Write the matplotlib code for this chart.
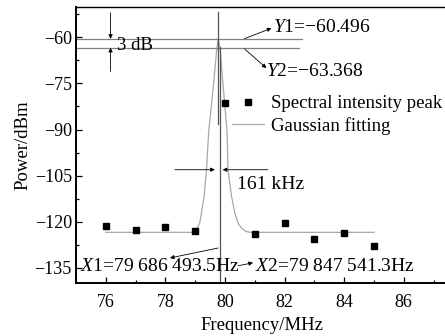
import matplotlib
matplotlib.use("Agg")
import matplotlib.pyplot as plt
from matplotlib.ticker import MultipleLocator

plt.rcParams["font.family"] = ["Liberation Serif", "DejaVu Serif"]
plt.rcParams["mathtext.fontset"] = "custom"
plt.rcParams["mathtext.rm"] = "Liberation Serif"
plt.rcParams["mathtext.it"] = "Liberation Serif:italic"

# 测量点（频谱强度峰值）
freq = [76, 77, 78, 79, 80, 81, 82, 83, 84, 85]
power = [-121.3, -122.6, -121.9, -122.9, -81.5, -123.9, -120.5, -125.7, -123.7, -127.8]

# 高斯拟合曲线
fit_freq = [76.0, 78.9, 79.04, 79.15, 79.21, 79.30, 79.38, 79.45, 79.63, 79.72, 79.77,
            79.84, 79.92, 80.07, 80.10, 80.22, 80.33, 80.44, 80.55, 80.70, 80.85, 85.0]
fit_power = [-123.5, -123.5, -122.6, -120.5, -117.2, -111.8, -103.1, -91.0, -73.8, -64.1, -60.5,
             -64.1, -73.8, -91.0, -103.1, -111.8, -117.2, -120.5, -122.1, -123.2, -123.5, -123.5]

y1, y2 = -60.496, -63.368
x1_label = "79 686 493.5Hz"
x2_label = "79 847 541.3Hz"
marker_a = 79.77
marker_b = 79.83

fig = plt.figure(figsize=(4.45, 3.36), dpi=100)
ax = fig.add_axes([76 / 445, 53 / 336, 372.5 / 445, 276.3 / 336])

ax.plot(fit_freq, fit_power, color="#a8a8a8", lw=0.9, label="Gaussian fitting", zorder=2)
ax.plot(freq, power, ls="none", marker="s", ms=4, color="black",
        label="Spectral intensity peak", zorder=4)

# Y1 / Y2 水平线
ax.plot([75, 82.57], [y1, y1], color="#808080", lw=0.9)
ax.plot([75, 82.48], [y2, y2], color="#808080", lw=0.9)

# 标记竖线
ax.plot([marker_a, marker_a], [-51.6, -88.1], color="#555555", lw=0.9)
ax.plot([marker_b, marker_b], [-63.0, -140], color="#555555", lw=0.9)

arr = dict(arrowstyle="-|>", lw=0.6, color="black", mutation_scale=6, shrinkA=0, shrinkB=0)
fs = 14

# 3 dB
ax.annotate("", xy=(76.16, y1), xytext=(76.16, -52.0), arrowprops=arr)
ax.annotate("", xy=(76.16, y2), xytext=(76.16, -71.1), arrowprops=arr)
ax.text(76.36, -62.8, "3 dB", fontsize=13.5, va="center", ha="left")

ax.annotate("", xy=(81.56, -57.0), xytext=(80.66, -60.4), arrowprops=arr)
ax.text(81.6, -56.8, r"$\it{Y}$1=−60.496", fontsize=fs, va="center", ha="left")
ax.annotate("", xy=(81.39, -70.0), xytext=(80.66, -63.8), arrowprops=arr)
ax.text(81.37, -71.0, r"$\it{Y}$2=−63.368", fontsize=fs, va="center", ha="left")

# 161 kHz
ax.annotate("", xy=(79.66, -103.1), xytext=(78.32, -103.1), arrowprops=arr)
ax.annotate("", xy=(79.92, -103.1), xytext=(81.44, -103.1), arrowprops=arr)
ax.text(80.39, -107.8, "161 kHz", fontsize=fs, va="center", ha="left")

# X1 / X2
ax.annotate("", xy=(78.15, -131.85), xytext=(79.77, -128.6), arrowprops=arr)
ax.text(75.13, -134.6, r"$\it{X}$1=" + x1_label, fontsize=fs, va="center", ha="left")
ax.annotate("", xy=(80.94, -133.4), xytext=(80.44, -134.4), arrowprops=arr)
ax.text(81.0, -134.6, r"$\it{X}$2=" + x2_label, fontsize=fs, va="center", ha="left")

# 图例顺序：点在上，线在下
handles, labels = ax.get_legend_handles_labels()
ax.legend(handles[::-1], labels[::-1], loc="upper left", bbox_to_anchor=(0.418, 0.68),
          frameon=False, fontsize=13.5, handlelength=1.7, handletextpad=0.4,
          labelspacing=0.25, borderpad=0, borderaxespad=0)

ax.set_xlim(75, 87.5)
ax.set_ylim(-140, -50)
ax.xaxis.set_minor_locator(MultipleLocator(1))
ax.yaxis.set_minor_locator(MultipleLocator(7.5))
ax.set_xticks([76, 78, 80, 82, 84, 86])
ax.set_yticks([-60, -75, -90, -105, -120, -135])
ax.set_yticklabels(["−60", "−75", "−90", "−105", "−120", "−135"])
ax.tick_params(which="major", direction="in", length=4, width=0.9, labelsize=13)
ax.tick_params(which="minor", direction="in", length=2.5, width=0.9)
ax.tick_params(axis="x", pad=8)
ax.tick_params(axis="y", pad=3)

ax.spines["right"].set_visible(False)
for s in ["left", "bottom"]:
    ax.spines[s].set_linewidth(1.4)
ax.spines["top"].set_linewidth(1.0)

ax.set_xlabel("Frequency/MHz", fontsize=13.5, labelpad=4)
ax.set_ylabel("Power/dBm", fontsize=13.5, labelpad=2)

fig.savefig("out.png", dpi=100)
